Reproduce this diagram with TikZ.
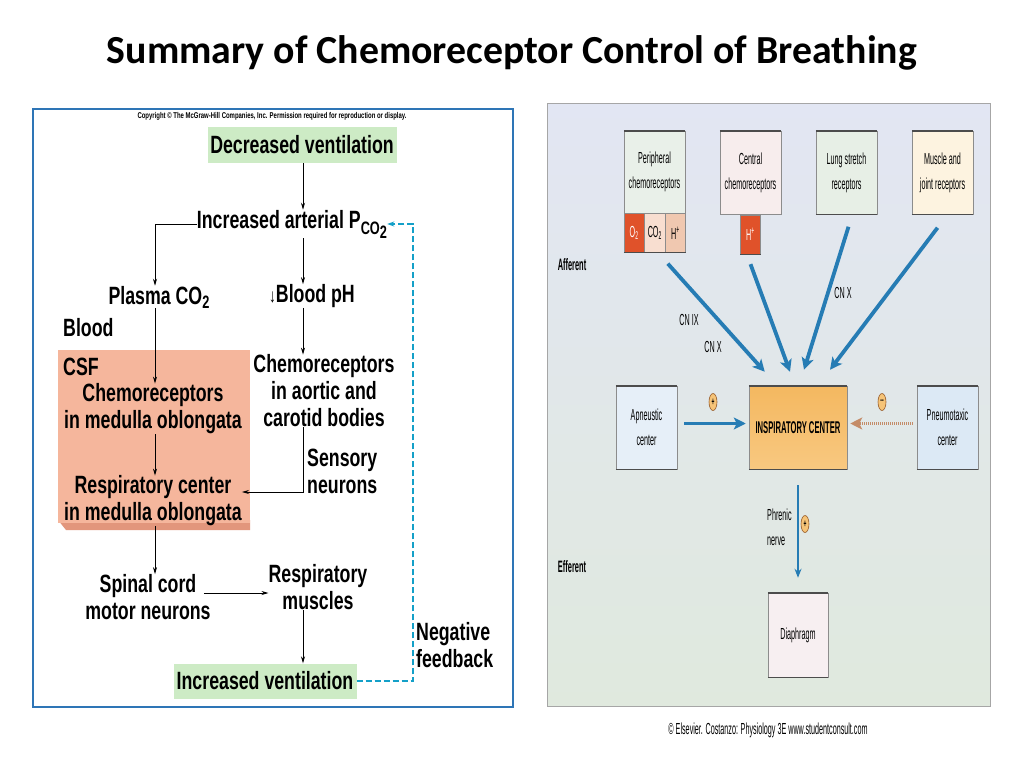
\documentclass[tikz,border=0pt]{standalone}
\usepackage{fontspec}
\setmainfont{Carlito}
\newfontfamily\condfont[FakeStretch=0.71]{Liberation Sans}
\newfontfamily\thinfont[FakeStretch=0.45]{Liberation Sans}
\usetikzlibrary{arrows.meta}
\usetikzlibrary{positioning}
\usetikzlibrary{shapes.geometric}

\definecolor{panelblue}{RGB}{46,117,182}
\definecolor{boxgreen}{RGB}{205,235,197}
\definecolor{salmon}{RGB}{245,182,156}
\definecolor{salmondark}{RGB}{226,150,124}
\definecolor{fbcyan}{RGB}{20,160,200}
\definecolor{arrblue}{RGB}{38,124,180}
\definecolor{pneubrown}{RGB}{196,140,104}
\definecolor{cellred}{RGB}{224,82,42}
\definecolor{cellpale}{RGB}{248,222,208}
\definecolor{cellpeach}{RGB}{240,200,176}
\definecolor{bgtop}{RGB}{226,230,243}
\definecolor{bgmid}{RGB}{226,234,230}
\definecolor{bgbot}{RGB}{224,233,222}
\definecolor{insptop}{RGB}{244,184,96}
\definecolor{inspmid}{RGB}{253,222,164}
\definecolor{inspbot}{RGB}{248,200,128}
\definecolor{signfill}{RGB}{246,196,120}
\definecolor{signline}{RGB}{150,90,40}

\tikzset{
  lbl/.style={font=\condfont\bfseries\fontsize{25}{27}\selectfont, align=center, inner sep=0pt},
  gbox/.style={lbl, fill=boxgreen, minimum width=189pt, minimum height=36pt},
  arr/.style={-{Stealth[length=7pt,width=4pt]}, line width=0.8pt},
  fb/.style={-{Stealth[length=7pt,width=5pt]}, draw=fbcyan, line width=1.2pt, dash pattern=on 6pt off 3pt},
  rbox/.style={draw=black!45, line width=0.5pt, minimum width=61pt, minimum height=83pt, align=center,
    inner sep=1pt, font=\thinfont\fontsize{16}{25}\selectfont},
  cell/.style={draw=black!45, line width=0.4pt, minimum width=20.3pt, minimum height=39pt, inner sep=0pt,
    font=\thinfont\fontsize{16}{16}\selectfont},
  rtext/.style={font=\thinfont\fontsize{16}{25}\selectfont, inner sep=0pt},
  bigarr/.style={-{Stealth[length=12pt,width=12pt,inset=3pt]}, draw=arrblue, line width=3.8pt},
  sign/.style={ellipse, draw=signline, fill=signfill, line width=0.6pt, minimum width=8pt,
    minimum height=17pt, inner sep=0pt, font=\thinfont\bfseries\fontsize{11}{11}\selectfont},
  topedge/.style={draw=black!70, line width=1.8pt}
}

\begin{document}
\begin{tikzpicture}[x=1pt,y=-1pt]
\useasboundingbox (0,0) rectangle (1024,768);

% title
\node[font=\bfseries\fontsize{39.8}{46}\selectfont] (title) at (512,53) {Summary of Chemoreceptor Control of Breathing};

% left panel
\draw[panelblue, line width=1.8pt, fill=white] (33,109) rectangle (513,707);
\node[font=\condfont\bfseries\fontsize{8.4}{9}\selectfont, inner sep=0pt] (copy) at (272,116)
  {Copyright © The McGraw-Hill Companies, Inc. Permission required for reproduction or display.};
\fill[salmondark] (58,520) -- (250,520) -- (250,530) -- (66,530) -- cycle;
\fill[salmon] (58,350) rectangle (250,523);

\coordinate (lc) at (155,0);
\coordinate (rc) at (303,0);
\coordinate (fbx) at (413,0);

\node[gbox] (decv) at (302,145) {Decreased ventilation};
\node[lbl] (paco2) at (292,224) {Increased arterial P\raisebox{-6pt}{\fontsize{18}{18}\selectfont CO\raisebox{-4pt}{2}}};
\node[lbl] (plasma) at (159,297) {Plasma CO\raisebox{-4pt}{\fontsize{18}{18}\selectfont 2}};
\node[lbl] (bph) at (312,296) {{\fontsize{19}{19}\selectfont ↓}Blood pH};
\node[lbl, anchor=west] (blood) at (63,328) {Blood};
\node[lbl, anchor=west] (csf) at (63,367) {CSF};
\node[lbl] (chemmed) at (153,409) {Chemoreceptors\\in medulla oblongata};
\node[lbl] (chemaor) at (324,391) {Chemoreceptors\\in aortic and\\carotid bodies};
\node[lbl, anchor=west, align=left] (sensory) at (307,471) {Sensory\\neurons};
\node[lbl] (respc) at (153,501) {Respiratory center\\in medulla oblongata};
\node[lbl] (spinal) at (148,597) {Spinal cord\\motor neurons};
\node[lbl] (muscles) at (318,587) {Respiratory\\muscles};
\node[gbox, minimum width=183pt, minimum height=35pt] (incv) at (265,681) {Increased ventilation};
\node[lbl, anchor=west, align=left] (negfb) at (416,645) {Negative\\feedback};

\draw[arr] (decv.south -| rc) -- (paco2.north -| rc);
\draw[arr] (paco2.south -| rc) -- (bph.north -| rc);
\draw[arr] (paco2.west) -| (plasma.north -| lc);
\draw[arr] (plasma.south -| lc) -- (chemmed.north -| lc);
\draw[arr] (chemmed.south -| lc) -- (respc.north -| lc);
\draw[arr] (respc.south -| lc) -- (spinal.north -| lc);
\draw[arr] (bph.south -| rc) -- (chemaor.north -| rc);
\draw[arr] (chemaor.south -| rc) |- ([yshift=9pt]respc.east);
\draw[arr] ([xshift=-7pt,yshift=4pt]spinal.east) -- ([yshift=4pt]spinal.east -| muscles.west);
\draw[arr] (muscles.south -| rc) -- (incv.north -| rc);
\draw[fb] (incv.east) -| (fbx |- paco2.east) -- (paco2.east);

% right panel
\shade[top color=bgtop, middle color=bgmid, bottom color=bgbot] (547,103) rectangle (990,706);
\draw[black!35, line width=1pt] (547,103) rectangle (990,706);

\node[rbox, fill={rgb,255:red,233;green,240;blue,233}, minimum height=82pt] (peri) at (654.5,172) {Peripheral\\chemoreceptors};
\node[cell, fill=cellred, text=white, anchor=north west] (o2) at (peri.south west) {O\textsubscript{2}};
\node[cell, fill=cellpale, right=0pt of o2] (co2) {CO\textsubscript{2}};
\node[cell, fill=cellpeach, right=0pt of co2] (hp) {H\textsuperscript{+}};
\node[rbox, fill={rgb,255:red,247;green,237;blue,237}] (cent) at (750.5,173) {Central\\chemoreceptors};
\node[cell, fill=cellred, text=white, anchor=north] (centh) at (cent.south) {H\textsuperscript{+}};
\node[rbox, fill={rgb,255:red,231;green,239;blue,230}] (lung) at (846.5,173) {Lung stretch\\receptors};
\node[rbox, fill={rgb,255:red,253;green,243;blue,224}] (musc) at (942.5,173) {Muscle and\\joint receptors};

\node[rbox, fill={rgb,255:red,230;green,239;blue,248}] (apn) at (646.5,427.5) {Apneustic\\center};
\node[rbox, minimum width=98pt, top color=insptop, middle color=inspmid, bottom color=inspbot,
  font=\thinfont\bfseries\fontsize{17}{19}\selectfont] (insp) at (798,427.5) {INSPIRATORY CENTER};
\node[rbox, fill={rgb,255:red,220;green,233;blue,245}] (pneu) at (947.5,427.5) {Pneumotaxic\\center};
\node[rbox, fill={rgb,255:red,247;green,239;blue,241}, minimum width=60pt, minimum height=84pt] (diaph) at (798,635) {Diaphragm};

\foreach \n in {peri,cent,lung,musc,apn,insp,pneu,diaph}
  \draw[topedge] (\n.north west) -- (\n.north east);
\foreach \n in {o2,co2,hp,centh,lung,musc,apn,insp,pneu,diaph}
  \draw[topedge, line width=1.2pt] (\n.south west) -- (\n.south east);

\node[rtext, font=\thinfont\bfseries\fontsize{16.5}{18}\selectfont] (aff) at (572,265) {Afferent};
\node[rtext, font=\thinfont\bfseries\fontsize{16.5}{18}\selectfont] (eff) at (572,567) {Efferent};
\node[rtext] (cn9) at (689,320) {CN IX};
\node[rtext] (cn10a) at (713,347) {CN X};
\node[rtext] (cn10b) at (843,293) {CN X};
\node[rtext, anchor=west, align=left] (phren) at (767,527) {Phrenic\\nerve};

\draw[bigarr] ([shift={(13,11)}]co2.south) -- ([shift={(16,-14)}]insp.north west);
\draw[bigarr] ([shift={(0,10)}]centh.south) -- ([shift={(-8,-14)}]insp.north);
\draw[bigarr] ([shift={(2,12)}]lung.south) -- ([shift={(6,-16)}]insp.north);
\draw[bigarr] ([shift={(-5,13)}]musc.south) -- ([shift={(32,-16)}]insp.north);
\draw[bigarr, line width=3.4pt, shorten <=7pt, shorten >=3pt] ([yshift=4pt]apn.east) -- ([yshift=4pt]insp.west);
\draw[bigarr, draw=pneubrown, line width=3.2pt, dash pattern=on 1.2pt off 0.8pt, shorten <=4pt, shorten >=3pt]
  ([yshift=4pt]pneu.west) -- ([yshift=4pt]insp.east);
\draw[bigarr, line width=2pt, -{Stealth[length=9pt,width=7pt]}, shorten <=16pt, shorten >=15pt] (insp.south) -- (diaph.north);

\node[sign] (pos1) at (713,402) {+};
\node[sign] (neg1) at (882,402) {--};
\node[sign] (pos2) at (805,524) {+};

\node[rtext, font=\thinfont\fontsize{16}{18}\selectfont] (credit) at (768,730)
  {© Elsevier. Costanzo: Physiology 3E www.studentconsult.com};
\end{tikzpicture}
\end{document}
